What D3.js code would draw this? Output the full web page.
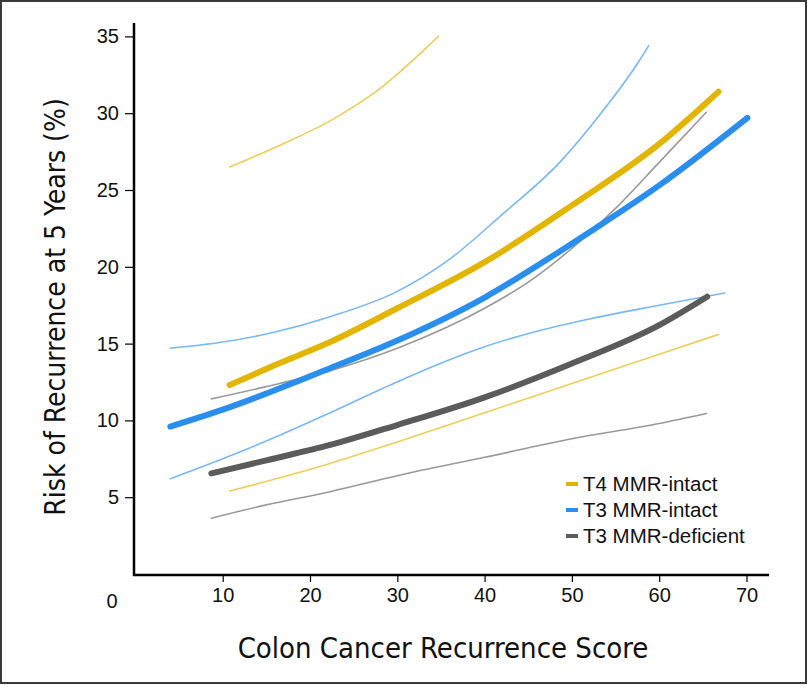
<!DOCTYPE html>
<html>
<head>
<meta charset="utf-8">
<script src="https://cdn.jsdelivr.net/npm/d3@7"></script>
<style>
  html, body { margin: 0; padding: 0; background: #fff; }
  svg { display: block; }
</style>
</head>
<body>
<svg id="chart" width="809" height="685"></svg>
<script>
// ---- Data ----
const xTicks = [10, 20, 30, 40, 50, 60, 70];
const yTicks = [5, 10, 15, 20, 25, 30, 35];

const t4Score = [10.8, 16, 22.3, 30, 40, 50, 60, 66.8];
const t4Risk  = [12.3, 13.6, 15.1, 17.3, 20.3, 24.0, 28.0, 31.4];
const t4UpperScore = [10.8, 16.5, 22.3, 28, 34.7];
const t4Upper      = [26.5, 27.9, 29.5, 31.6, 35.0];
const t4LowerScore = [10.8, 22.3, 30, 40, 50, 60, 66.8];
const t4Lower      = [5.4, 7.2, 8.6, 10.5, 12.4, 14.3, 15.6];

const t3Score = [4, 10, 22.3, 30, 40, 48.6, 52.4, 60, 70.1];
const t3Risk  = [9.6, 10.7, 13.4, 15.2, 18.0, 21.0, 22.4, 25.3, 29.7];
const t3UpperScore = [4, 10, 16, 22.3, 30, 36, 42, 48.6, 53.2, 57.7, 58.8];
const t3Upper      = [14.7, 15.1, 15.75, 16.75, 18.4, 20.5, 23.4, 26.8, 29.9, 33.4, 34.4];
const t3LowerScore = [4, 10, 16, 22.3, 28, 34, 40, 46, 52, 60, 67.5];
const t3Lower      = [6.2, 7.5, 8.9, 10.5, 12.0, 13.5, 14.8, 15.8, 16.6, 17.5, 18.3];

const dScore = [8.7, 15, 22.3, 30, 40, 50, 60, 65.5];
const dRisk  = [6.55, 7.4, 8.4, 9.7, 11.5, 13.7, 16.2, 18.05];
const dUpperScore = [8.7, 15, 22.3, 30, 40, 45, 50, 55, 60, 65.4];
const dUpper      = [11.4, 12.2, 13.24, 14.7, 17.3, 19.0, 21.2, 23.8, 26.8, 30.06];
const dLowerScore = [8.7, 15, 22.3, 30, 40, 50, 60, 65.4];
const dLower      = [3.63, 4.5, 5.36, 6.4, 7.6, 8.8, 9.8, 10.45];

const legendLabels = ["T4 MMR-intact", "T3 MMR-intact", "T3 MMR-deficient"];
const legendColors = ["#E2B600", "#2A8EEE", "#5B5B5B"];

// ---- Layout ----
const svg = d3.select("#chart");
const x = d3.scaleLinear().domain([0, 70]).range([135.4, 746.5]);
const y = d3.scaleLinear().domain([0, 35]).range([574, 36.4]);

// frame
svg.append("rect").attr("x", 1).attr("y", 1).attr("width", 805).attr("height", 682)
  .attr("fill", "#fff").attr("stroke", "#3a3a3a").attr("stroke-width", 2);

const tickFont = "'Liberation Sans', Arial, sans-serif";

// x axis
const xAxis = svg.append("g").attr("transform", "translate(0,575)")
  .call(d3.axisBottom(x).tickValues(xTicks).tickSize(7).tickPadding(6).tickFormat(d3.format("d")));
xAxis.select(".domain").attr("d", "M133,0H769").attr("stroke", "#000").attr("stroke-width", 2.5);
xAxis.selectAll(".tick line").attr("stroke", "#000").attr("stroke-width", 1.2);
xAxis.selectAll(".tick text").attr("font-size", 20).attr("font-family", tickFont).attr("fill", "#111");

// y axis
const yAxis = svg.append("g").attr("transform", "translate(134,0)")
  .call(d3.axisLeft(y).tickValues(yTicks).tickSize(9).tickPadding(6).tickFormat(d3.format("d")));
yAxis.select(".domain").attr("d", "M0,23V576").attr("stroke", "#000").attr("stroke-width", 2.5);
yAxis.selectAll(".tick line").attr("stroke", "#000").attr("stroke-width", 1.2);
yAxis.selectAll(".tick text").attr("font-size", 20).attr("font-family", tickFont).attr("fill", "#111");

// origin label "0"
svg.append("text").attr("x", 112).attr("y", 608).attr("text-anchor", "middle")
  .attr("font-size", 20).attr("font-family", tickFont).attr("fill", "#111").text("0");

// axis titles
const titleFont = "'Liberation Sans Narrow', 'DejaVu Sans Condensed', Arial, sans-serif";
svg.append("text").attr("x", 443).attr("y", 658).attr("text-anchor", "middle")
  .attr("font-size", 29).attr("font-family", titleFont).attr("fill", "#111")
  .text("Colon Cancer Recurrence Score");
svg.append("text").attr("transform", "translate(65,307) rotate(-90)").attr("text-anchor", "middle")
  .attr("font-size", 28).attr("font-family", titleFont).attr("fill", "#111")
  .text("Risk of Recurrence at 5 Years (%)");

// lines
const line = d3.line().x(d => x(d[0])).y(d => y(d[1])).curve(d3.curveMonotoneX);
function draw(xs, ys, color, width) {
  svg.append("path").datum(xs.map((v, i) => [v, ys[i]]))
    .attr("d", line).attr("fill", "none").attr("stroke", color)
    .attr("stroke-width", width).attr("stroke-linecap", "round");
}
const thin = 1.6, thick = 6;
// thin CI lines
draw(t4UpperScore, t4Upper, "#EBCF5A", thin);
draw(t4LowerScore, t4Lower, "#EBCF5A", thin);
draw(t3UpperScore, t3Upper, "#79B8F2", thin);
draw(t3LowerScore, t3Lower, "#79B8F2", thin);
draw(dUpperScore, dUpper, "#999999", thin);
draw(dLowerScore, dLower, "#999999", thin);
// thick estimate lines
draw(t4Score, t4Risk, legendColors[0], thick);
draw(t3Score, t3Risk, legendColors[1], thick);
draw(dScore, dRisk, legendColors[2], thick);

// legend
const legend = svg.append("g").attr("transform", "translate(566,484)");
legendLabels.forEach((lab, i) => {
  const g = legend.append("g").attr("transform", `translate(0,${i * 26})`);
  g.append("line").attr("x1", 0).attr("x2", 12).attr("y1", 0).attr("y2", 0)
    .attr("stroke", legendColors[i]).attr("stroke-width", 4);
  g.append("text").attr("x", 17).attr("y", 7).attr("font-size", 20.5)
    .attr("font-family", "'Liberation Sans', Arial, sans-serif").attr("fill", "#111").text(lab);
});
</script>
</body>
</html>
